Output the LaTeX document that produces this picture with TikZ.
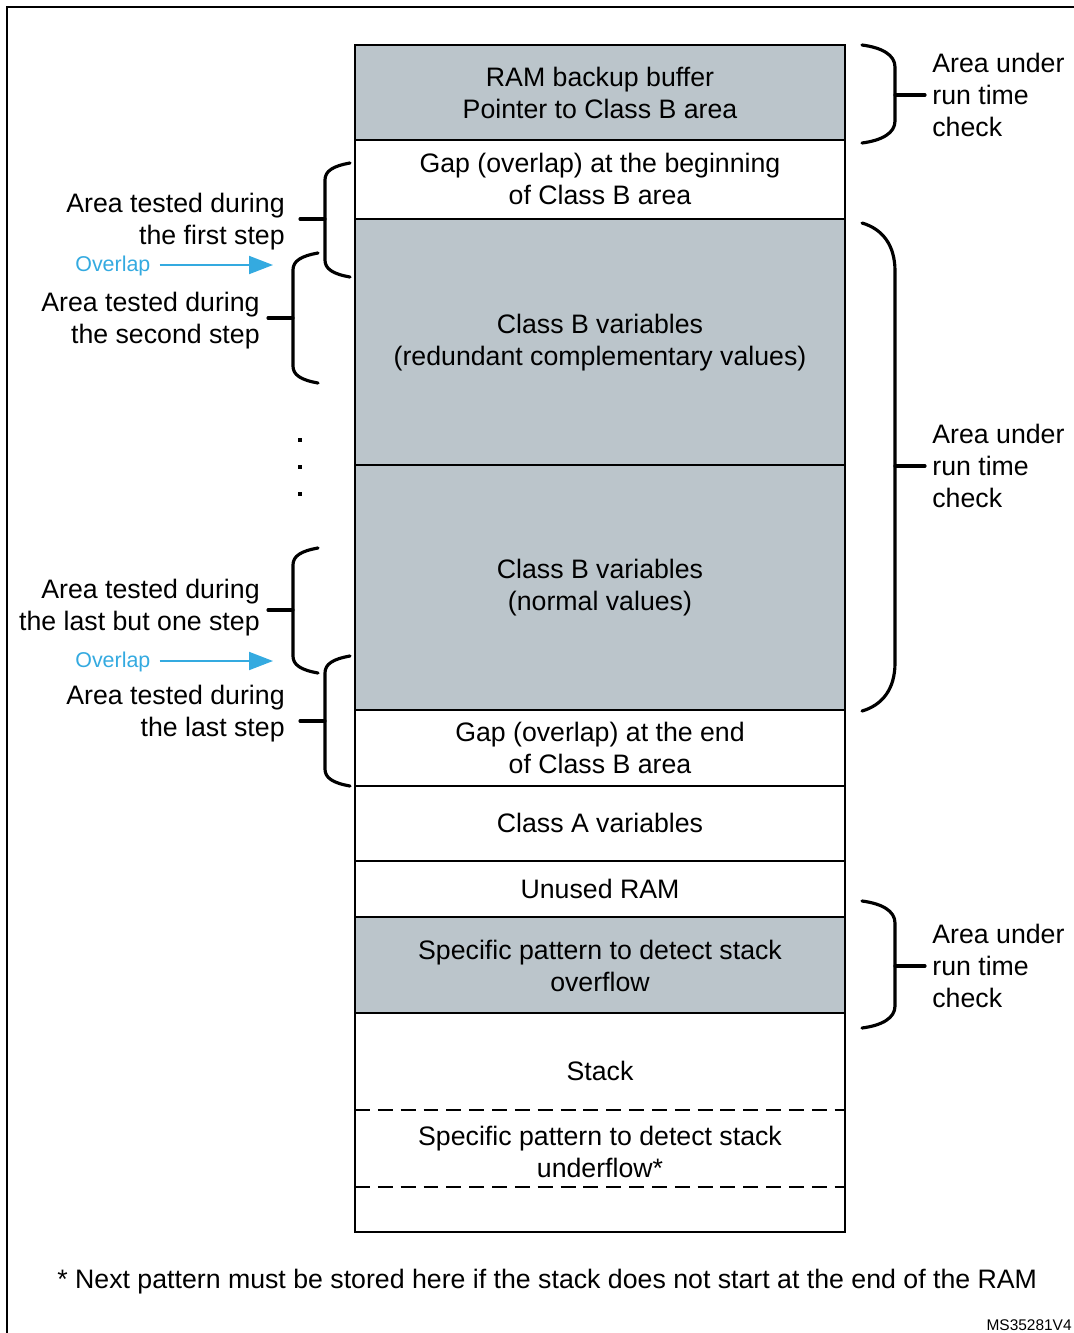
\documentclass[tikz,border=0pt]{standalone}
\usepackage{fontspec}
\setmainfont{Liberation Sans}
\usetikzlibrary{positioning,arrows.meta,calc}
\definecolor{cbgray}{RGB}{187,197,203}
\definecolor{ovblue}{RGB}{52,170,224}
\tikzset{
  ramrow/.style={draw=black,line width=0.9pt},
  grayrow/.style={ramrow,fill=cbgray},
  rowtxt/.style={align=center,inner sep=0pt,font=\fontsize{15.2}{18.2}\selectfont},
  sidetxt/.style={inner sep=0pt,font=\fontsize{15.2}{18.2}\selectfont},
  brc/.style={line width=1.8pt,line cap=round},
  ovltxt/.style={inner sep=0pt,text=ovblue,font=\fontsize{12.2}{14}\selectfont},
  ovlarr/.style={draw=ovblue,line width=1.1pt,-{Triangle[length=4.8mm,width=3.6mm]}},
  dashrow/.style={line width=0.9pt,dash pattern=on 8.5pt off 4.5pt},
}
\begin{document}
\begin{tikzpicture}[x=0.02cm,y=-0.02cm]
  \useasboundingbox (0,0) rectangle (1074,1333);
  % outer frame (cut at right and bottom)
  \draw[line width=1.4pt] (7,1333) -- (7,7) -- (1074,7);

  % RAM map, top to bottom
  \draw[grayrow] (355,45) rectangle (845,140);
  \draw[ramrow] (355,140) rectangle (845,219);
  \draw[grayrow] (355,219) rectangle (845,465);
  \draw[grayrow] (355,465) rectangle (845,710);
  \draw[ramrow] (355,710) rectangle (845,786);
  \draw[ramrow] (355,786) rectangle (845,861);
  \draw[ramrow] (355,861) rectangle (845,917);
  \draw[grayrow] (355,917) rectangle (845,1013);
  \draw[ramrow] (355,1013) rectangle (845,1232);
  \draw[dashrow] (355,1110) -- (845,1110);
  \draw[dashrow] (355,1187) -- (845,1187);

  \node[rowtxt] (backup) at (600,93) {RAM backup buffer\\Pointer to Class B area};
  \node[rowtxt] (gapbeg) at (600,179) {Gap (overlap) at the beginning\\of Class B area};
  \node[rowtxt] (clbred) at (600,343) {Class B variables\\(redundant complementary values)};
  \node[rowtxt] (clbnrm) at (600,588) {Class B variables\\(normal values)};
  \node[rowtxt] (gapend) at (600,748) {Gap (overlap) at the end\\of Class B area};
  \node[rowtxt] (clavar) at (600,823) {Class A variables};
  \node[rowtxt] (unused) at (600,889) {Unused RAM};
  \node[rowtxt] (ovflow) at (600,966) {Specific pattern to detect stack\\overflow};
  \node[rowtxt] (stack) at (600,1071) {Stack};
  \node[rowtxt] (unflow) at (600,1152) {Specific pattern to detect stack\\underflow*};

  % right braces: top/bottom/curve/middle
  \foreach \t/\b/\c/\m [count=\i] in {45/143/22/95, 223/711/48/466, 901/1028/22/966}{
    \draw[brc] (862,\t) .. controls (882,\t+0.12*\c) and (895,\t+0.45*\c) .. (895,\t+\c)
      -- (895,\b-\c) .. controls (895,\b-0.45*\c) and (882,\b-0.12*\c) .. (862,\b);
    \draw[brc] (895,\m) -- (925,\m);
    \node[sidetxt,anchor=west,align=left] (rtc\i) at (932,\m) {Area under\\run time\\check};
  }

  % left braces: end x/vertical x/top/bottom/middle
  \foreach \e/\v/\t/\b/\m in {350/325/163/277/219, 318/293/253/383/318,
                              318/293/548/673/610, 350/325/656/786/721}{
    \draw[brc] (\e,\t) .. controls (\e-17,\t+3) and (\v,\t+8) .. (\v,\t+17)
      -- (\v,\b-17) .. controls (\v,\b-8) and (\e-17,\b-3) .. (\e,\b);
    \draw[brc] (\v,\m) -- (\v-25,\m);
  }
  \node[sidetxt,anchor=east,align=right] (step1) at (285,222) {Area tested during\\the first step};
  \node[sidetxt,anchor=east,align=right] (step2) at (260,321) {Area tested during\\the second step};
  \node[sidetxt,anchor=east,align=right] (stepn1) at (260,608) {Area tested during\\the last but one step};
  \node[sidetxt,anchor=east,align=right] (stepn) at (285,714) {Area tested during\\the last step};

  % overlap arrows
  \node[ovltxt,anchor=west] (ovl1) at (75,266) {Overlap};
  \node[ovltxt,anchor=west] (ovl2) at (75,662) {Overlap};
  \coordinate (ovt1) at (273,265);
  \coordinate (ovt2) at (273,661);
  \draw[ovlarr] ([xshift=5]ovl1.east |- ovt1) -- (ovt1);
  \draw[ovlarr] ([xshift=5]ovl2.east |- ovt2) -- (ovt2);

  % dots between steps
  \foreach \y in {440,467,494}{ \fill (298,\y-2) rectangle (302,\y+2); }

  \node[sidetxt,anchor=west] (note) at (57,1282)
    {* Next pattern must be stored here if the stack does not start at the end of the RAM};
  \node[inner sep=0pt,anchor=east,font=\fontsize{8.8}{10}\selectfont] (ref) at (1072,1325) {MS35281V4};
\end{tikzpicture}
\end{document}
